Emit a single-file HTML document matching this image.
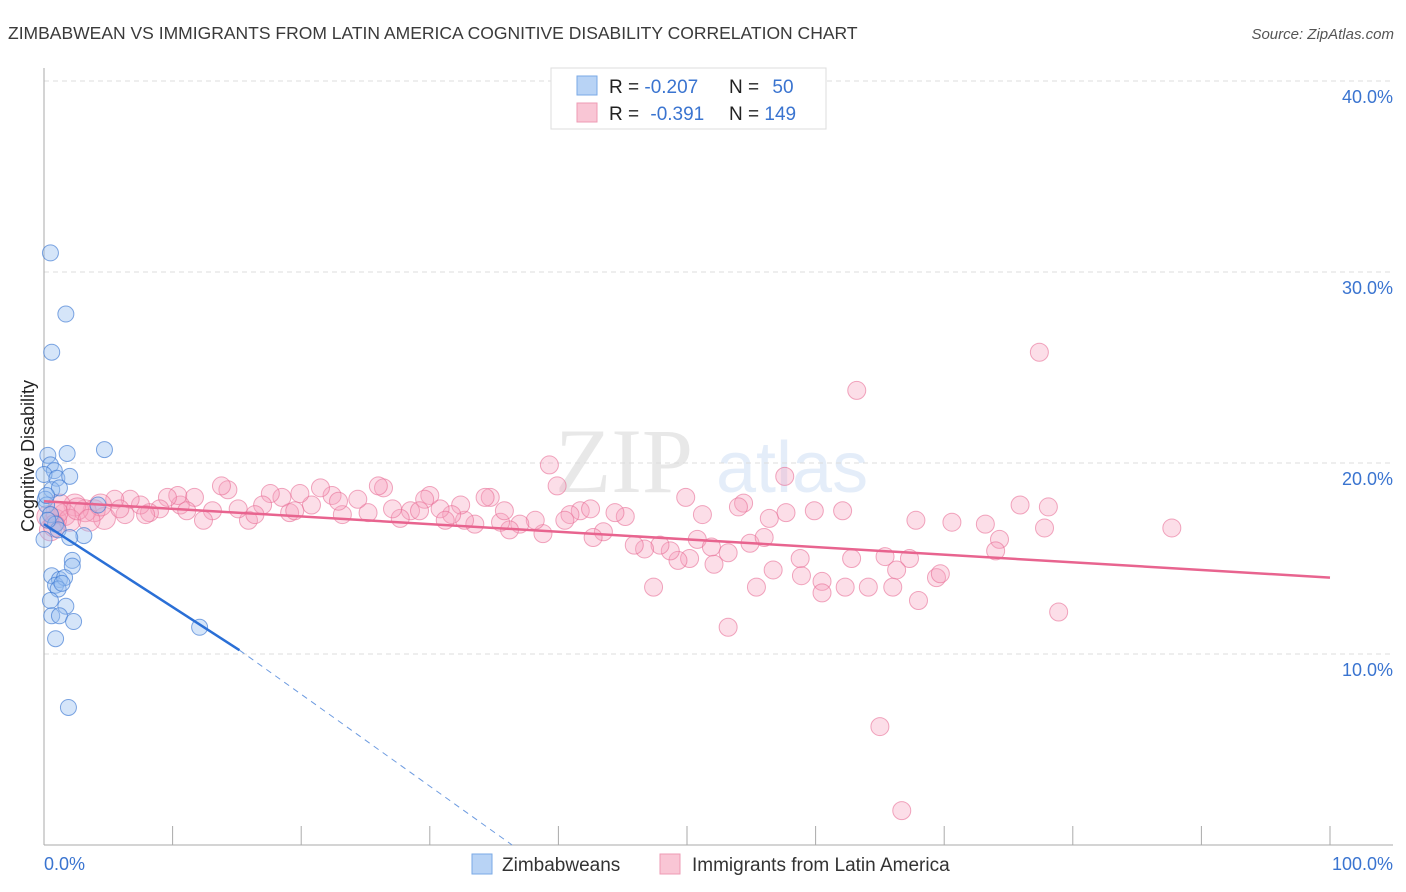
<!DOCTYPE html>
<html><head><meta charset="utf-8"><style>
body{margin:0;background:#fff;font-family:"Liberation Sans",sans-serif}
svg{display:block}
</style></head><body>
<svg id="chart" width="1406" height="892" viewBox="0 0 1406 892" xmlns="http://www.w3.org/2000/svg">
<text x="8" y="39" font-size="17.5" fill="#3a3a3a" font-family="Liberation Sans, sans-serif">ZIMBABWEAN VS IMMIGRANTS FROM LATIN AMERICA COGNITIVE DISABILITY CORRELATION CHART</text>
<text x="1394" y="39" font-size="15" fill="#555" font-style="italic" text-anchor="end">Source: ZipAtlas.com</text>
<g opacity="0.13">
<text x="555" y="492" font-size="92" font-family="Liberation Serif, serif" fill="#555">ZIP</text>
<text x="716" y="492" font-size="72" fill="#3b7dd8">atlas</text>
</g>
<g id="grid"></g>
<g id="axes"></g>
<g id="pink"></g>
<g id="blue"></g>
<g id="trends"></g>
<text transform="translate(34,456) rotate(-90)" font-size="18" fill="#222" text-anchor="middle">Cognitive Disability</text>
<g>
<rect x="551" y="68" width="275" height="61" fill="#fff" stroke="#ddd"/>
<rect x="577" y="76" width="20" height="19" fill="#b8d3f5" stroke="#7aa9e6"/>
<rect x="577" y="103" width="20" height="19" fill="#f9c6d5" stroke="#ee9bb4"/>
<text x="609" y="93" font-size="19" fill="#222">R = <tspan fill="#3a74d0">-0.207</tspan></text>
<text x="729" y="93" font-size="19" fill="#222">N = <tspan fill="#3a74d0" dx="8">50</tspan></text>
<text x="609" y="120" font-size="19" fill="#222">R = <tspan fill="#3a74d0" dx="6">-0.391</tspan></text>
<text x="729" y="120" font-size="19" fill="#222">N = <tspan fill="#3a74d0">149</tspan></text>
</g>
<g>
<rect x="472" y="854" width="20" height="20" fill="#b8d3f5" stroke="#7aa9e6"/>
<text x="502" y="871" font-size="19" fill="#333">Zimbabweans</text>
<rect x="660" y="854" width="20" height="20" fill="#f9c6d5" stroke="#ee9bb4"/>
<text x="692" y="871" font-size="19" fill="#333">Immigrants from Latin America</text>
</g>
</svg>
<script>
const yTicks=[10,20,30,40];
const yTickLabels=["10.0%","20.0%","30.0%","40.0%"];
const xTickLabels=["0.0%","100.0%"];
const blueX=[0.5,1.7,0.6,4.7,1.8,0.3,0.5,0.8,0.0,1.0,2.0,0.6,1.2,0.1,0.2,0.5,0.9,1.1,3.1,2.0,2.2,2.2,0.6,1.2,0.9,1.6,1.1,0.5,1.7,0.6,1.2,2.3,0.9,12.1,1.9,0.3,0.0,4.2,1.4,0.2];
const blueY=[31.0,27.8,25.8,20.7,20.5,20.4,19.9,19.6,19.4,19.2,19.3,18.6,18.7,18.1,17.8,17.3,16.8,16.5,16.2,16.1,14.9,14.6,14.1,13.9,13.6,14.0,13.4,12.8,12.5,12.0,12.0,11.7,10.8,11.4,7.2,17.0,16.0,17.8,13.7,18.3];
const pinkX=[77.4,63.2,39.3,57.6,78.1,75.9,87.7,77.8,73.2,70.6,67.8,74.3,74.0,67.3,65.4,62.8,58.8,56.7,58.9,60.5,60.5,62.3,64.1,66.0,66.3,69.4,69.7,68.0,78.9,55.4,47.4,53.2,65.0,66.7,62.1,59.9,57.7,56.4,54.4,54.0,51.2,49.9,50.8,51.9,53.2,52.1,54.9,56.0,50.2,49.3,48.7,47.9,46.7,45.9,45.2,44.4,43.5,42.7,41.7,40.9,40.5,39.9,38.8,38.2,37.0,36.2,35.5,34.7,34.3,33.5,32.7,32.4,31.7,30.8,30.0,29.6,28.5,27.7,27.1,26.4,26.0,25.2,24.4,23.2,22.4,21.5,20.8,19.9,19.1,18.5,17.6,17.0,15.9,15.1,14.3,13.8,13.1,12.4,11.7,10.6,10.4,9.6,9.0,8.2,7.5,6.7,6.3,5.5,4.7,3.9,3.2,2.4,1.6,0.9,0.5,1.2,2.0,4.4,5.9,7.9,11.1,16.4,19.5,22.9,29.2,31.2,35.8,42.5,0.3,1.0,2.6,3.5,0.8];
const pinkY=[25.8,23.8,19.9,19.3,17.7,17.8,16.6,16.6,16.8,16.9,17.0,16.0,15.4,15.0,15.1,15.0,15.0,14.4,14.1,13.8,13.2,13.5,13.5,13.5,14.4,14.0,14.2,12.8,12.2,13.5,13.5,11.4,6.2,1.8,17.5,17.5,17.4,17.1,17.9,17.7,17.3,18.2,16.0,15.6,15.3,14.7,15.8,16.1,15.0,14.9,15.4,15.7,15.5,15.7,17.2,17.4,16.4,16.1,17.5,17.3,17.0,18.8,16.3,17.0,16.8,16.5,16.9,18.2,18.2,16.8,17.0,17.8,17.3,17.6,18.3,18.1,17.5,17.1,17.6,18.7,18.8,17.4,18.1,17.3,18.3,18.7,17.8,18.4,17.4,18.2,18.4,17.8,17.0,17.6,18.6,18.8,17.5,17.0,18.2,17.8,18.3,18.2,17.6,17.4,17.8,18.1,17.3,18.1,17.1,17.5,17.5,17.8,17.3,17.0,16.5,17.8,17.0,17.8,17.6,17.3,17.5,17.3,17.5,18.0,17.5,17.0,17.5,17.6,17.2,17.4,17.6,17.0,16.7];
const blueTrend=[[0,16.8],[15.2,10.2],[36.4,0]];
const pinkTrend=[[0,18.0],[100,14.0]];
const X=v=>44+v*12.86, Y=v=>845-v*19.1;
const NS="http://www.w3.org/2000/svg";
function mk(tag,attrs,parent){const e=document.createElementNS(NS,tag);for(const k in attrs)e.setAttribute(k,attrs[k]);parent.appendChild(e);return e;}
const grid=document.getElementById('grid'),axes=document.getElementById('axes');
yTicks.forEach((t,i)=>{
 const l=mk('line',{x1:44,x2:1393,y1:Y(t),y2:Y(t),stroke:'#ddd','stroke-dasharray':'5,4'},grid);
 
 
 const tx=mk('text',{x:1393,y:Y(t)+22,'font-size':18,fill:'#3a74d0','text-anchor':'end'},axes);
 tx.textContent=yTickLabels[i];
 
 
});
mk('line',{x1:44,x2:44,y1:68,y2:845,stroke:'#aaa'},axes);
mk('line',{x1:44,x2:1393,y1:845,y2:845,stroke:'#aaa'},axes);
for(let i=0;i<=10;i++){const t=mk('line',{x1:X(i*10),x2:X(i*10),y1:826,y2:845,stroke:'#aaa'},axes);
 
 }
const xl0=mk('text',{x:44,y:870,'font-size':18,fill:'#3a74d0'},axes);xl0.textContent=xTickLabels[0];


const xl1=mk('text',{x:1393,y:870,'font-size':18,fill:'#3a74d0','text-anchor':'end'},axes);xl1.textContent=xTickLabels[1];


const pg=document.getElementById('pink');
pinkX.forEach((x,i)=>{const c=mk('circle',{cx:X(x),cy:Y(pinkY[i]),r:x<5?11:9,fill:'rgba(246,160,190,0.35)',stroke:'rgba(232,110,150,0.6)','stroke-width':1},pg);
 
 });
const bg=document.getElementById('blue');
blueX.forEach((x,i)=>{const c=mk('circle',{cx:X(x),cy:Y(blueY[i]),r:8,fill:'rgba(150,190,240,0.4)',stroke:'rgba(60,120,210,0.65)','stroke-width':1},bg);
 
 });
const tg=document.getElementById('trends');
const pl=mk('line',{x1:X(pinkTrend[0][0]),y1:Y(pinkTrend[0][1]),x2:X(pinkTrend[1][0]),y2:Y(pinkTrend[1][1]),stroke:'#e8648f','stroke-width':2.5},tg);


const bl=mk('line',{x1:X(blueTrend[0][0]),y1:Y(blueTrend[0][1]),x2:X(blueTrend[1][0]),y2:Y(blueTrend[1][1]),stroke:'#2a6fd6','stroke-width':2.5},tg);


const bd=mk('line',{x1:X(blueTrend[1][0]),y1:Y(blueTrend[1][1]),x2:X(blueTrend[2][0]),y2:Y(blueTrend[2][1]),stroke:'#6d9be0','stroke-width':1,'stroke-dasharray':'6,5'},tg);


</script>
</body></html>
